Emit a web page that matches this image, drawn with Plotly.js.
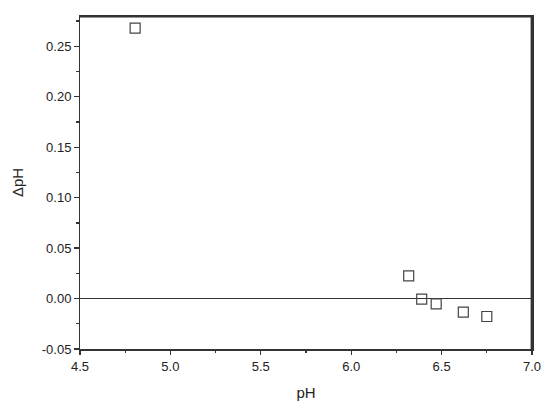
<!DOCTYPE html>
<html><head><meta charset="utf-8">
<script src="https://cdn.plot.ly/plotly-3.0.1.min.js"></script>
<style>html,body{margin:0;padding:0;background:#fff}</style>
</head><body><div id="chart" style="width:550px;height:408px"></div>
<script>
const pH = [4.805, 6.318, 6.39, 6.47, 6.62, 6.75];
const dpH = [0.268, 0.0224, -0.0005, -0.0052, -0.0135, -0.0178];
const xTitle = "pH";
const yTitle = "ΔpH";
const xTickVals = [4.5, 5.0, 5.5, 6.0, 6.5, 7.0];
const xTickText = ["4.5", "5.0", "5.5", "6.0", "6.5", "7.0"];
const xMinorVals = [4.75, 5.25, 5.75, 6.25, 6.75];
const yTickVals = [-0.05, 0, 0.05, 0.10, 0.15, 0.20, 0.25];
const yTickText = ["-0.05", "0.00", "0.05", "0.10", "0.15", "0.20", "0.25"];
const yMinorVals = [-0.025, 0.025, 0.075, 0.125, 0.175, 0.225, 0.275];
const xRange = [4.5, 7.0];
const yRange = [-0.05, 0.28];

const font = 'Liberation Sans, Arial, sans-serif';
const trace = {
  x: pH, y: dpH, type: 'scatter', mode: 'markers',
  marker: {symbol: 'square-open', size: 10, color: '#444', line: {width: 1.2, color: '#444'}},
  showlegend: false
};
// top and right border of the plot frame, along the axis range limits
const frameTrace = {
  x: [xRange[0], xRange[1], xRange[1]], y: [yRange[1], yRange[1], yRange[0]],
  type: 'scatter', mode: 'lines', line: {color: '#333', width: 2.8},
  showlegend: false, hoverinfo: 'skip'
};
const layout = {
  width: 550, height: 408,
  margin: {l: 80, r: 18, t: 16, b: 59},
  paper_bgcolor: '#fff', plot_bgcolor: '#fff',
  xaxis: {
    range: xRange, showline: true, linecolor: '#333', linewidth: 1.5, mirror: 'all',
    ticks: '', showticklabels: false, showgrid: false, zeroline: false
  },
  yaxis: {
    range: yRange, showline: true, linecolor: '#333', linewidth: 1.5, mirror: 'all',
    ticks: '', showticklabels: false, showgrid: false,
    zeroline: true, zerolinecolor: '#333', zerolinewidth: 1.3
  },
  xaxis2: {
    overlaying: 'x', side: 'bottom', range: xRange, tickmode: 'array', tickvals: xTickVals, ticktext: xTickText,
    ticks: 'outside', ticklen: 5, tickwidth: 1.3, tickcolor: '#333',
    showline: false, showgrid: false, zeroline: false,
    tickfont: {family: font, size: 13, color: '#222'},
    title: {text: xTitle, standoff: 14, font: {family: font, size: 15, color: '#222'}}
  },
  yaxis2: {
    overlaying: 'y', side: 'left', range: yRange, tickmode: 'array', tickvals: yTickVals, ticktext: yTickText,
    ticks: 'outside', ticklen: 5, tickwidth: 1.3, tickcolor: '#333',
    showline: false, showgrid: false, zeroline: false,
    tickfont: {family: font, size: 13, color: '#222'},
    title: {text: yTitle, standoff: 14, font: {family: font, size: 15, color: '#222'}}
  },
  xaxis3: {
    overlaying: 'x', side: 'bottom', range: xRange, tickmode: 'array', tickvals: xMinorVals,
    ticks: 'outside', ticklen: 3, tickwidth: 1.3, tickcolor: '#333', showticklabels: false,
    showline: false, showgrid: false, zeroline: false
  },
  yaxis3: {
    overlaying: 'y', side: 'left', range: yRange, tickmode: 'array', tickvals: yMinorVals,
    ticks: 'outside', ticklen: 3, tickwidth: 1.3, tickcolor: '#333', showticklabels: false,
    showline: false, showgrid: false, zeroline: false
  }
};
const majorTrace = {x: [], y: [], xaxis: 'x2', yaxis: 'y2', type: 'scatter', mode: 'markers', showlegend: false, hoverinfo: 'skip'};
const minorTrace = {x: [], y: [], xaxis: 'x3', yaxis: 'y3', type: 'scatter', mode: 'markers', showlegend: false, hoverinfo: 'skip'};
Plotly.newPlot('chart', [frameTrace, trace, majorTrace, minorTrace], layout, {displayModeBar: false, staticPlot: true});
</script></body></html>
